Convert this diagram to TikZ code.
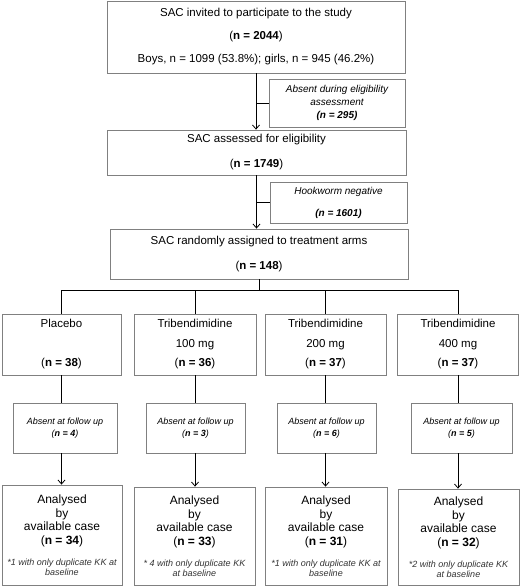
\documentclass[tikz,border=0pt]{standalone}
\usepackage{fontspec}
\setmainfont{Liberation Sans}
\usetikzlibrary{positioning,arrows.meta}
\definecolor{boxgray}{RGB}{128,128,128}
\newcommand{\nn}[1]{(\textbf{n = #1})}
\newcommand{\footfont}{\fontsize{9}{10}\selectfont\itshape\color{black!80}}

\begin{document}
\begin{tikzpicture}[x=1pt, y=-1pt, line width=0.8pt,
    >={Straight Barb[length=4pt,width=7pt]},
    box/.style={draw=boxgray, rectangle, align=center, inner sep=0pt},
    main/.style={box, font=\fontsize{11.5}{23}\selectfont},
    side/.style={box, font=\fontsize{10}{13}\selectfont\itshape},
    arm/.style={box, font=\fontsize{11.5}{19.5}\selectfont, minimum height=61pt},
    lost/.style={box, font=\fontsize{9}{12}\selectfont\itshape, minimum height=50pt},
    result/.style={box, font=\fontsize{12}{13.5}\selectfont}]
    \useasboundingbox (0,0) rectangle (520,586);%
    % enrolment
    \node[main, minimum width=298pt, minimum height=72pt] (invite) at (256,37)
    {SAC invited to participate to the study\\\nn{2044}\\Boys, n = 1099 (53.8\%); girls, n = 945 (46.2\%)};%
    \node[side, minimum width=136pt, minimum height=48pt] (absent) at (337,103)
    {Absent during eligibility\\assessment\\\textbf{(n = 295)}};%
    \node[main, font=\fontsize{11.5}{25}\selectfont, minimum width=299pt, minimum height=45pt] (assessed) at (256.5,152.5)
    {SAC assessed for eligibility\\\nn{1749}};%
    \node[side, font=\fontsize{10}{22}\selectfont\itshape, minimum width=137pt, minimum height=41pt] (hookneg) at (338.5,202.5)
    {Hookworm negative\\\textbf{(n = 1601)}};%
    \node[main, font=\fontsize{11.5}{25}\selectfont, minimum width=298pt, minimum height=50pt] (random) at (259,254)
    {SAC randomly assigned to treatment arms\\\nn{148}};%
    \coordinate (split) at (259,290);%
    % treatment arms
    \node[arm, minimum width=119pt] (armA) at (61.5,344.5) {Placebo\\\mbox{}\\\nn{38}};%
    \node[arm, minimum width=122pt] (armB) at (195,344.5) {Tribendimidine\\100 mg\\\nn{36}};%
    \node[arm, minimum width=121pt] (armC) at (325.5,344.5) {Tribendimidine\\200 mg\\\nn{37}};%
    \node[arm, minimum width=121pt] (armD) at (458,344.5) {Tribendimidine\\400 mg\\\nn{37}};%
    % follow up
    \node[lost, minimum width=104pt] (lostA) at (65,428) {Absent at follow up\\\nn{4}};%
    \node[lost, minimum width=99pt] (lostB) at (195.5,428) {Absent at follow up\\\nn{3}};%
    \node[lost, minimum width=99pt] (lostC) at (326.5,428) {Absent at follow up\\\nn{6}};%
    \node[lost, minimum width=101pt] (lostD) at (461.5,428) {Absent at follow up\\\nn{5}};%
    % analysis
    \node[result, minimum width=120pt, minimum height=100pt] (anaA) at (62,535)
    {Analysed\\by\\available case\\\nn{34}\\[7.5pt]\footfont *1 with only duplicate KK at\\[-3.5pt]\footfont baseline};%
    \node[result, minimum width=121pt, minimum height=98pt] (anaB) at (194.5,536)
    {Analysed\\by\\available case\\\nn{33}\\[7.5pt]\footfont * 4 with only duplicate KK\\[-3.5pt]\footfont at baseline};%
    \node[result, minimum width=122pt, minimum height=98pt] (anaC) at (326,536)
    {Analysed\\by\\available case\\\nn{31}\\[7.5pt]\footfont *1 with only duplicate KK at\\[-3.5pt]\footfont baseline};%
    \node[result, minimum width=121pt, minimum height=96pt] (anaD) at (458.5,537)
    {Analysed\\by\\available case\\\nn{32}\\[7.5pt]\footfont *2 with only duplicate KK\\[-3.5pt]\footfont at baseline};%
    % connectors
    \path[->] (invite.south) edge (invite.south |- assessed.north)%
    (assessed.south) edge (assessed.south |- random.north);%
    \draw (invite.south |- absent.west) -- (absent.west);%
    \draw (assessed.south |- hookneg.west) -- (hookneg.west);%
    \draw (random.south) -- (split);%
    \foreach \arm/\tag in {armA/A,armB/B,armC/C,armD/D} {%
      \draw (\arm.north) |- (split);%
      \draw (\arm.south) -- (\arm.south |- lost\tag.north);%
      \draw[->] (\arm.south |- lost\tag.south) -- (\arm.south |- ana\tag.north);%
    }
\end{tikzpicture}
\end{document}
